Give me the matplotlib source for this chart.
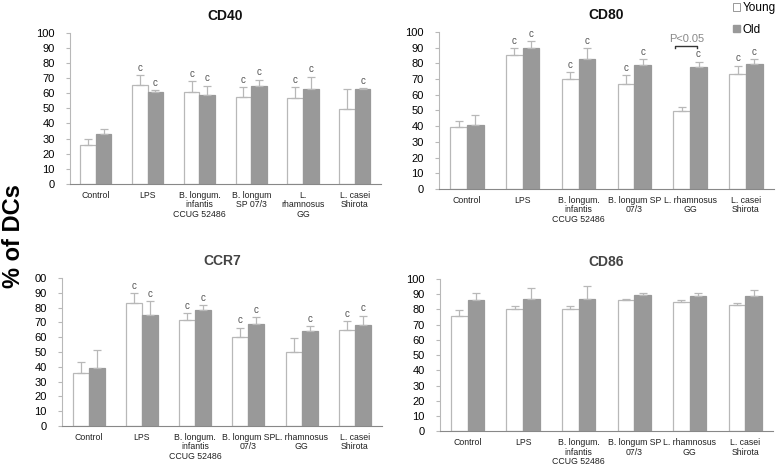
import numpy as np
import matplotlib
matplotlib.use('Agg')
from matplotlib import pyplot as plt
from matplotlib.patches import Patch

plt.rcParams['font.family'] = ['Liberation Sans', 'DejaVu Sans']

groups = ['Control', 'LPS', 'B. longum infantis', 'B. longum SP 07/3', 'L. rhamnosus GG', 'L. casei Shirota']

# tick labels as they are wrapped in each panel
labels_cd40 = ['Control', 'LPS', 'B. longum.\ninfantis\nCCUG 52486', 'B. longum\nSP 07/3', 'L.\nrhamnosus\nGG', 'L. casei\nShirota']
labels_other = ['Control', 'LPS', 'B. longum.\ninfantis\nCCUG 52486', 'B. longum SP\n07/3', 'L. rhamnosus\nGG', 'L. casei\nShirota']

# CD40
cd40_young = [26, 65.5, 61, 57.5, 57, 49.5]
cd40_young_err = [4, 6.5, 7, 6.5, 7, 13.5]
cd40_old = [33, 61, 58.5, 65, 63, 63]
cd40_old_err = [3.5, 1, 6.5, 4, 8, 0.5]
cd40_sig_young = [0, 1, 1, 1, 1, 0]
cd40_sig_old = [0, 1, 1, 1, 1, 1]

# CD80
cd80_young = [39.5, 85, 70, 67, 49.5, 73]
cd80_young_err = [4, 4.5, 4.5, 5.5, 3, 5.5]
cd80_old = [41, 89.5, 83, 79, 77.5, 79.5]
cd80_old_err = [6, 4.5, 6.5, 3.5, 3.5, 3]
cd80_sig_young = [0, 1, 1, 1, 0, 1]
cd80_sig_old = [0, 1, 1, 1, 1, 1]

# CCR7
ccr7_young = [35.5, 83, 71.5, 60, 50, 65]
ccr7_young_err = [7.5, 7, 5, 6.5, 9.5, 6]
ccr7_old = [39, 75, 78.5, 69, 64, 68.5]
ccr7_old_err = [12.5, 9.5, 3, 4.5, 3.5, 6]
ccr7_sig_young = [0, 1, 1, 1, 0, 1]
ccr7_sig_old = [0, 1, 1, 1, 1, 1]

# CD86
cd86_young = [76, 80, 80, 86, 85, 83]
cd86_young_err = [3.5, 2, 2, 1, 1.5, 1.5]
cd86_old = [86, 87, 87, 89.5, 89, 89]
cd86_old_err = [4.5, 7, 8.5, 1.5, 1.5, 3.5]
cd86_sig_young = [0, 0, 0, 0, 0, 0]
cd86_sig_old = [0, 0, 0, 0, 0, 0]

yticks = [0, 10, 20, 30, 40, 50, 60, 70, 80, 90, 100]
ccr7_yticklabels = ['0', '10', '20', '30', '40', '50', '60', '70', '80', '90', '00']

edge = '#b8b8b8'
grey = '#999999'
W = 0.3

fig = plt.figure(figsize=(7.77, 4.68), dpi=100)

def panel(rect, title, young, yerr, old, oerr, sy, so, xlabels, tcolor, yl=None):
    ax = fig.add_axes(rect)
    x = np.arange(len(young))
    ax.bar(x - W/2, young, W, color='white', edgecolor=edge, linewidth=0.9)
    ax.bar(x + W/2, old, W, color=grey, edgecolor=grey, linewidth=0.9)
    ax.errorbar(x - W/2, young, yerr=[np.zeros(len(young)), yerr], fmt='none',
                ecolor=edge, elinewidth=0.9, capsize=3, capthick=0.9)
    ax.errorbar(x + W/2, old, yerr=[np.zeros(len(old)), oerr], fmt='none',
                ecolor=edge, elinewidth=0.9, capsize=3, capthick=0.9)
    for i in range(len(young)):
        if sy[i]:
            ax.text(x[i] - W/2, young[i] + yerr[i] + 1.5, 'c', ha='center', va='bottom', fontsize=7, color='#555555')
        if so[i]:
            ax.text(x[i] + W/2, old[i] + oerr[i] + 1.5, 'c', ha='center', va='bottom', fontsize=7, color='#555555')
    ax.set_xlim(-0.5, len(young) - 0.5)
    ax.set_ylim(0, 100)
    ax.set_yticks(yticks)
    if yl is not None:
        ax.set_yticklabels(yl)
    ax.set_xticks(x)
    ax.set_xticklabels(xlabels, fontsize=6.3, color='#222222', linespacing=1.05)
    ax.tick_params(axis='x', length=0, pad=5)
    ax.tick_params(axis='y', labelsize=8, length=3, color=edge, pad=8)
    for s in ['top', 'right']:
        ax.spines[s].set_visible(False)
    ax.spines['left'].set_color(edge)
    ax.spines['bottom'].set_color('#888888')
    ax.set_title(title, fontsize=10, fontweight='bold', color=tcolor, pad=9)
    return ax

panel([0.090, 0.607, 0.400, 0.323], 'CD40', cd40_young, cd40_young_err, cd40_old, cd40_old_err,
      cd40_sig_young, cd40_sig_old, labels_cd40, '#111111')
ax2 = panel([0.565, 0.596, 0.431, 0.336], 'CD80', cd80_young, cd80_young_err, cd80_old, cd80_old_err,
            cd80_sig_young, cd80_sig_old, labels_other, '#111111')
panel([0.080, 0.090, 0.411, 0.316], 'CCR7', ccr7_young, ccr7_young_err, ccr7_old, ccr7_old_err,
      ccr7_sig_young, ccr7_sig_old, labels_other, '#444444', yl=ccr7_yticklabels)
panel([0.566, 0.078, 0.429, 0.326], 'CD86', cd86_young, cd86_young_err, cd86_old, cd86_old_err,
      cd86_sig_young, cd86_sig_old, labels_other, '#444444')

# significance bracket in CD80 panel
ax2.plot([3.72, 3.72, 4.12, 4.12], [89.5, 91, 91, 89.5], color='#333333', lw=1)
ax2.text(3.93, 92, 'P<0.05', ha='center', va='bottom', fontsize=8, color='#888888')

fig.legend(handles=[Patch(facecolor='white', edgecolor='#888888', linewidth=0.6, label='Young'),
                    Patch(facecolor=grey, edgecolor=grey, label='Old')],
           loc='upper right', bbox_to_anchor=(1.012, 1.018), frameon=False, fontsize=8.5,
           handlelength=0.6, handleheight=0.6, handletextpad=0.2, labelspacing=0.8)

fig.text(0.017, 0.495, '% of DCs', rotation=90, ha='center', va='center', fontsize=17, fontweight='bold')

fig.savefig('out.png', dpi=100)
